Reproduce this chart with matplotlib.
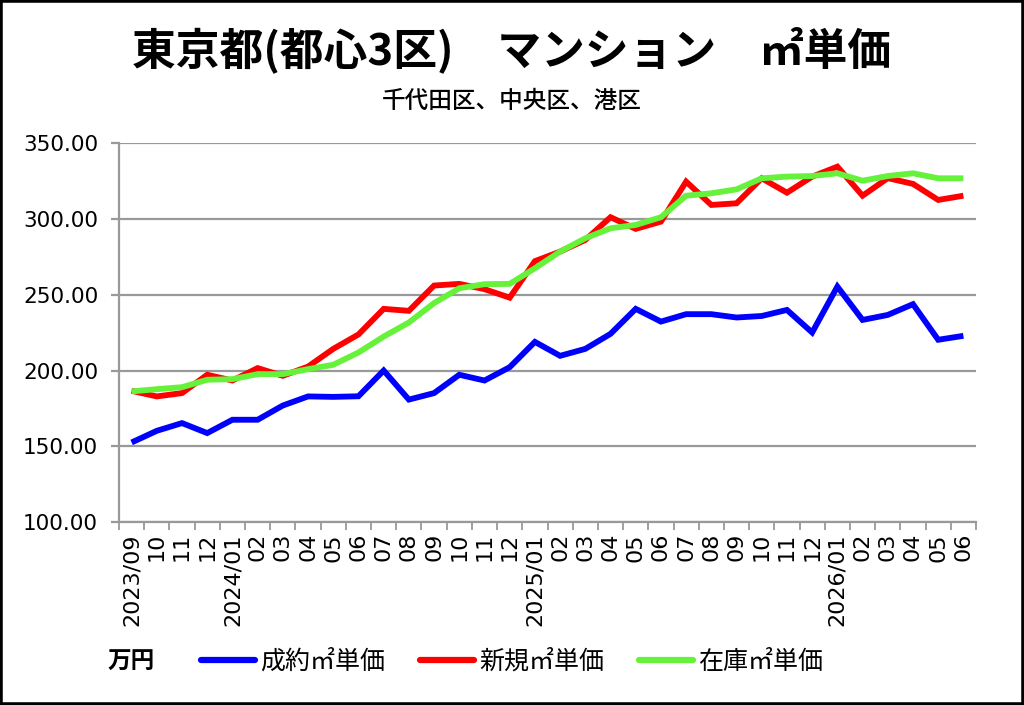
import matplotlib
matplotlib.use("Agg")
import matplotlib.pyplot as plt
from matplotlib.lines import Line2D
from matplotlib.patches import Rectangle

plt.rcParams['font.family'] = ['Noto Sans CJK JP', 'DejaVu Sans']

months = ["2023/09", "10", "11", "12", "2024/01", "02", "03", "04", "05", "06", "07", "08",
          "09", "10", "11", "12", "2025/01", "02", "03", "04", "05", "06", "07", "08",
          "09", "10", "11", "12", "2026/01", "02", "03", "04", "05", "06"]

seiyaku = [152.5, 160.2, 165.3, 158.7, 167.5, 167.5, 176.9, 182.9, 182.6, 183.0,
           200.0, 180.8, 185.1, 197.2, 193.4, 202.2, 218.9, 209.7, 214.3, 224.2,
           240.7, 232.3, 237.2, 237.2, 235.0, 236.0, 240.0, 225.1, 255.4, 233.4,
           236.7, 243.8, 220.3, 222.9]

shinki = [186.6, 182.9, 185.1, 197.2, 193.4, 201.6, 196.5, 202.6, 214.3, 223.8,
          240.7, 239.4, 256.1, 257.2, 253.7, 248.1, 272.2, 278.5, 286.2, 301.2,
          293.5, 298.3, 324.7, 309.3, 310.4, 326.9, 317.4, 328.0, 334.6, 315.4,
          327.0, 323.2, 312.6, 315.4]

zaiko = [186.2, 187.7, 189.0, 193.9, 194.3, 197.6, 197.6, 200.9, 203.8, 211.9,
         222.4, 231.7, 244.5, 254.3, 257.0, 257.2, 267.5, 278.5, 287.3, 293.9,
         296.1, 301.2, 315.4, 317.0, 319.6, 326.9, 328.0, 328.4, 330.2, 325.3,
         328.4, 330.2, 326.9, 326.9]

series_names = ["成約㎡単価", "新規㎡単価", "在庫㎡単価"]
series_colors = ["#0000FF", "#FF0000", "#66F23A"]
yticks = [100, 150, 200, 250, 300, 350]

fig = plt.figure(figsize=(10.24, 7.05), dpi=100)
ax = fig.add_axes([119/1024, 1-522/705, (976-119)/1024, (522-143.3)/705])

x = list(range(len(months)))
for vals, c in zip([seiyaku, shinki, zaiko], series_colors):
    ax.plot(x, vals, color=c, lw=4.2, solid_joinstyle='miter', solid_capstyle='butt', zorder=3)

ax.set_xlim(-0.5, len(months) - 0.5)
ax.set_ylim(100, 350)
ax.set_yticks(yticks)
ax.set_yticklabels([f"{v:.2f}" for v in yticks], family='DejaVu Sans', fontsize=15.5)
ax.grid(axis='y', color='#999999', lw=1.6, zorder=1)
ax.set_axisbelow(True)

ax.set_xticks(x)
ax.set_xticklabels(months, rotation=90, family='DejaVu Sans', fontsize=16, va='top')
ax.set_xticks([i - 0.5 for i in range(len(months) + 1)], minor=True)
ax.tick_params(axis='x', which='major', length=0, pad=8)
ax.tick_params(axis='x', which='minor', length=6, width=1.3, color='#999999', direction='out')
ax.tick_params(axis='y', length=6, width=1.6, color='#999999', direction='out', pad=9)

for s in ['top', 'right']:
    ax.spines[s].set_visible(False)
for s in ['left', 'bottom']:
    ax.spines[s].set_color('#999999')
    ax.spines[s].set_linewidth(1.6)

fig.text(0.5, 1-50/705, "東京都(都心3区)　マンション　㎡単価", ha='center', va='center',
         fontsize=31.5, fontweight='bold')
fig.text(0.5, 1-101/705, "千代田区、中央区、港区", ha='center', va='center', fontsize=17,
         fontweight='medium')

fig.text(131/1024, 1-662/705, "万円", ha='center', va='center', fontsize=17, fontweight='bold')
handles = [Line2D([0], [0], color=c, lw=4.5, solid_capstyle='round') for c in series_colors]
fig.legend(handles, series_names, loc='center', bbox_to_anchor=(512/1024, 1-662/705),
           ncol=3, frameon=False, fontsize=18, handlelength=2.15, handletextpad=0.2,
           columnspacing=1.4)

fig.patches.append(Rectangle((0, 0), 1, 1, transform=fig.transFigure, fill=False,
                             edgecolor='black', lw=4, zorder=10))

fig.savefig("out.png", dpi=100)
